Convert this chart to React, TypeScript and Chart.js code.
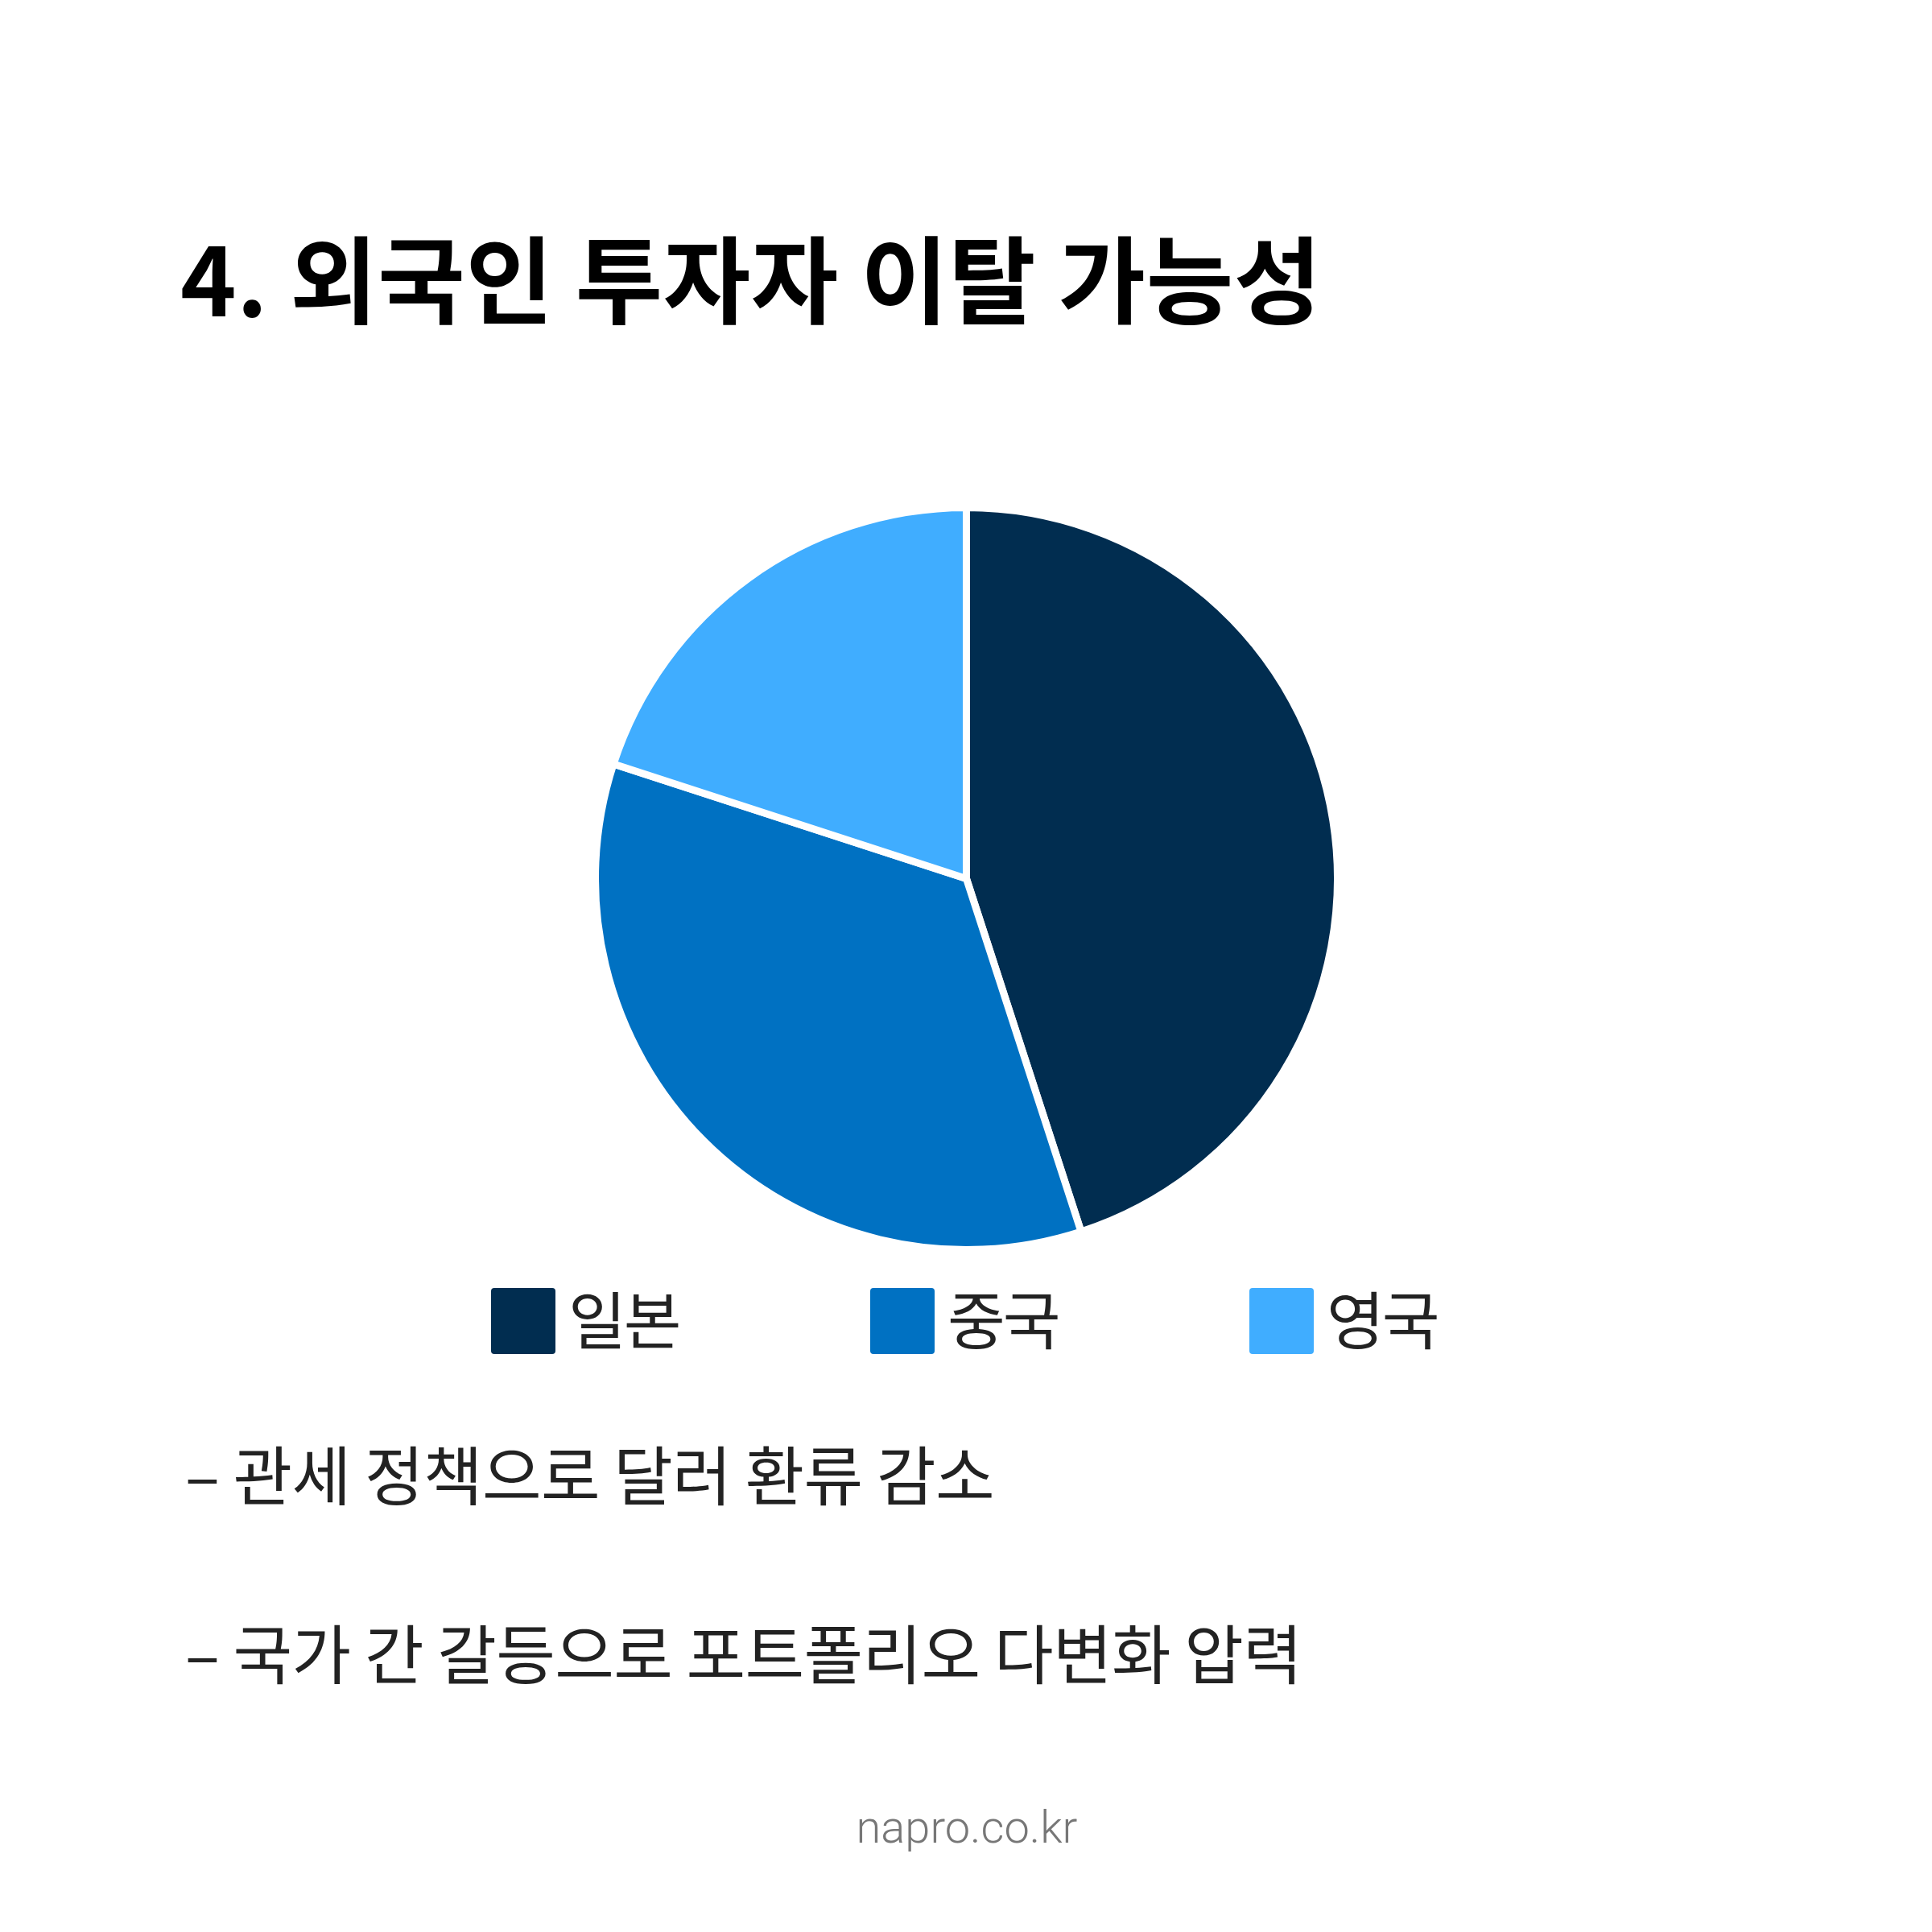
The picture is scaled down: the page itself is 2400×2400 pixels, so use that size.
import { useEffect, useRef } from "react"
import { Chart, registerables } from "chart.js"

Chart.register(...registerables)

const title = "4. 외국인 투자자 이탈 가능성"
const countries = ["일본", "중국", "영국"]
const shares = [45, 35, 20]
const sliceColors = ["#012D50", "#0071C2", "#40ADFF"]
const notes = ["– 관세 정책으로 달러 환류 감소", "– 국가 간 갈등으로 포트폴리오 다변화 압력"]
const footer = "napro.co.kr"

const KR = '"Noto Sans CJK KR", "Noto Sans", sans-serif'

export default function App() {
  const pieRef = useRef<HTMLCanvasElement>(null)

  useEffect(() => {
    if (!pieRef.current) return
    const ctx = pieRef.current.getContext("2d")
    if (!ctx) return

    const pie = new Chart(ctx, {
      type: "pie",
      data: {
        labels: countries,
        datasets: [
          {
            data: shares,
            backgroundColor: sliceColors,
            borderColor: "#ffffff",
            borderWidth: 9,
          },
        ],
      },
      options: {
        animation: false,
        responsive: true,
        maintainAspectRatio: false,
        layout: { padding: 0 },
        plugins: {
          legend: { display: false },
          tooltip: { enabled: false },
        },
      },
    })

    return () => pie.destroy()
  }, [])

  return (
    <div
      style={{
        position: "absolute",
        left: 0,
        top: 0,
        width: 2400,
        height: 2400,
        background: "#ffffff",
        fontFamily: KR,
        overflow: "hidden",
      }}
    >
      <div
        style={{
          position: "absolute",
          left: 224,
          top: 283,
          fontSize: 118,
          lineHeight: 1,
          fontWeight: 700,
          letterSpacing: 0.5,
          color: "#000000",
          whiteSpace: "nowrap",
        }}
      >
        {title}
      </div>

      <div style={{ position: "absolute", left: 735, top: 626, width: 931, height: 931 }}>
        <canvas ref={pieRef}></canvas>
      </div>

      {/* legend */}
      {countries.map((name, i) => (
        <div
          key={name}
          style={{
            position: "absolute",
            left: 610 + i * 471,
            top: 1600,
            height: 82,
            display: "flex",
            alignItems: "center",
            whiteSpace: "nowrap",
          }}
        >
          <div
            style={{
              width: 80,
              height: 82,
              borderRadius: 4,
              background: sliceColors[i],
            }}
          ></div>
          <span
            style={{
              marginLeft: 16,
              position: "relative",
              top: -5,
              fontSize: 78,
              lineHeight: 1,
              letterSpacing: -3,
              color: "#222222",
            }}
          >
            {name}
          </span>
        </div>
      ))}

      {notes.map((line, i) => (
        <div
          key={i}
          style={{
            position: "absolute",
            left: 230,
            top: 1788 + i * 222,
            fontSize: 80,
            lineHeight: 1,
            letterSpacing: -0.6,
            color: "#222222",
            whiteSpace: "pre",
          }}
        >
          {line}
        </div>
      ))}

      <div
        style={{
          position: "absolute",
          left: 0,
          width: 2402,
          top: 2242,
          textAlign: "center",
          fontFamily: "Roboto, sans-serif",
          fontWeight: 300,
          fontSize: 56,
          lineHeight: 1,
          color: "#777777",
        }}
      >
        {footer}
      </div>
    </div>
  )
}
